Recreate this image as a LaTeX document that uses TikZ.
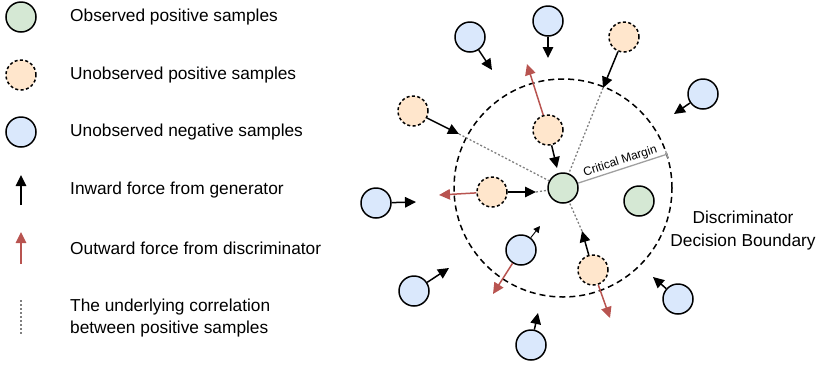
\documentclass[tikz,border=0pt]{standalone}
\usepackage{fontspec}
\setmainfont{Liberation Sans}
\usetikzlibrary{arrows.meta}
\definecolor{obsfill}{HTML}{D5E8D4}
\definecolor{unposfill}{HTML}{FFE6CC}
\definecolor{negfill}{HTML}{DAE8FC}
\definecolor{disred}{HTML}{B85450}
\definecolor{corrgray}{HTML}{808080}
\definecolor{margray}{HTML}{A0A0A0}
\tikzset{
  sample/.style={circle, minimum size=30pt, inner sep=0pt, line width=1.5pt, draw=black},
  obs/.style={sample, fill=obsfill},
  unpos/.style={sample, fill=unposfill, dash pattern=on 3pt off 2.4pt},
  neg/.style={sample, fill=negfill},
  gen/.style={line width=1.5pt, -{Triangle[length=11pt,width=10.5pt]}},
  genthin/.style={line width=0.9pt, -{Triangle[length=6.5pt,width=6.5pt]}},
  disc/.style={line width=1.5pt, disred, -{Triangle[length=11pt,width=10.5pt]}},
  corr/.style={line width=1.3pt, corrgray, dash pattern=on 2pt off 2pt},
  legtext/.style={anchor=west, inner sep=0pt, font=\fontsize{17.3}{22}\selectfont, align=left},
  bigtext/.style={inner sep=0pt, font=\fontsize{17.3}{23}\selectfont, align=center},
}
\begin{document}
\begin{tikzpicture}[x=1pt, y=-1pt]
\useasboundingbox (0,0) rectangle (819,365);

% ---------- legend ----------
\node[obs]   (lg) at (21,17)  {};
\node[unpos] (lo) at (21,75)  {};
\node[neg]   (lb) at (21,132) {};
\node[legtext] (tg) at (70,17)  {Observed positive samples};
\node[legtext] (to) at (70,75)  {Unobserved positive samples};
\node[legtext] (tb) at (70,132) {Unobserved negative samples};

\coordinate (la1) at (21,205); \coordinate (la2) at (21,175);
\draw[gen] (la1) -- (la2);
\node[legtext] (ta) at (70,190) {Inward force from generator};

\coordinate (lr1) at (21,264); \coordinate (lr2) at (21,232);
\draw[disc] (lr1) -- (lr2);
\node[legtext] (tr) at (70,248) {Outward force from discriminator};

\coordinate (ld1) at (21,300); \coordinate (ld2) at (21,334);
\draw[corr] (ld1) -- (ld2);
\node[legtext] (td) at (70,318) {The underlying correlation\\between positive samples};

% ---------- decision boundary ----------
\node[circle, minimum size=218pt, inner sep=0pt, draw=black, line width=1.5pt,
      dash pattern=on 6pt off 4pt] (bd) at (563,188) {};
\node[bigtext] (bdt) at (743,231) {Discriminator\\Decision Boundary};

% ---------- samples ----------
\node[obs] (c0) at (563,188) {};
\node[obs] (g2) at (639,201) {};

\node[neg] (nA) at (470,37)  {};
\node[neg] (nB) at (548,21)  {};
\node[neg] (nF) at (703,94)  {};
\node[neg] (nG) at (376,203) {};
\node[neg] (nJ) at (521,250) {};
\node[neg] (nK) at (414,291) {};
\node[neg] (nL) at (531,345) {};
\node[neg] (nM) at (678,299) {};

\node[unpos] (pC) at (548,130) {};
\node[unpos] (pD) at (413,111) {};
\node[unpos] (pE) at (624,37)  {};
\node[unpos] (pH) at (492,192) {};
\node[unpos] (pI) at (593,270) {};

% ---------- arrow tips ----------
\coordinate (aA) at (492,70);
\coordinate (aB) at (548,58);
\coordinate (aF) at (674,114);
\coordinate (aG) at (416,202);
\coordinate (aK) at (449,268);
\coordinate (aL) at (538,313);
\coordinate (aM) at (653,277);
\coordinate (aJ) at (540,226);
\coordinate (rJ) at (493,294);
\coordinate (rC) at (527,64);
\coordinate (aC) at (557,168);
\coordinate (aD) at (459,134);
\coordinate (aE) at (603,88);
\coordinate (rH) at (439,195);
\coordinate (aH) at (536,192);
\coordinate (rI) at (610,318);
\coordinate (aI) at (582,231);

% ---------- correlations ----------
\draw[corr] (aD) -- (c0);
\draw[corr] (aE) -- (c0);
\draw[corr] (aH) -- (c0);
\draw[corr] (aI) -- (c0);

% ---------- generator forces ----------
\draw[gen] (nA) -- (aA);
\draw[gen] (nB) -- (aB);
\draw[gen] (nF) -- (aF);
\draw[gen] (nG) -- (aG);
\draw[gen] (nK) -- (aK);
\draw[gen] (nL) -- (aL);
\draw[gen] (nM) -- (aM);
\draw[genthin] (nJ) -- (aJ);
\draw[gen] (pC) -- (aC);
\draw[gen] (pD) -- (aD);
\draw[gen] (pE) -- (aE);
\draw[gen] (pH) -- (aH);
\draw[gen] (pI) -- (aI);

% ---------- discriminator forces ----------
\draw[disc] (nJ) -- (rJ);
\draw[disc] (pC) -- (rC);
\draw[disc] (pH) -- (rH);
\draw[disc] (pI) -- (rI);

% ---------- critical margin ----------
\draw[margray, line width=1.3pt, -{Bar[width=7pt,line width=1.3pt]}]
  (c0.18.4) -- (bd.18.4)
  node[midway, above, sloped, inner sep=1.5pt, text=black,
       font=\fontsize{12}{14}\selectfont] (cm) {Critical Margin};
\end{tikzpicture}
\end{document}
